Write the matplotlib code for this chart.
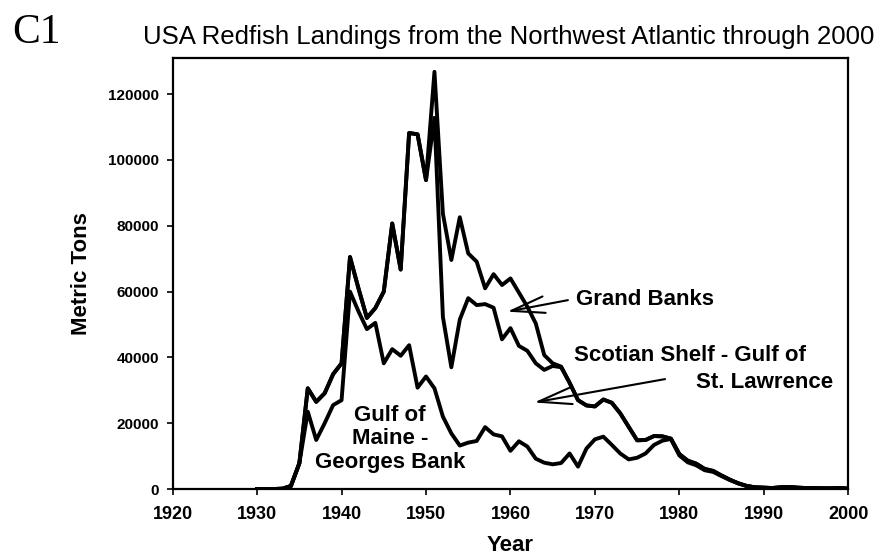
import matplotlib
matplotlib.use('Agg')
import matplotlib.pyplot as plt
import numpy as np

plt.rcParams['font.family'] = ['Liberation Sans', 'DejaVu Sans']

# landings by area (metric tons)
years = np.arange(1930, 2001)

gulf_maine = [0, 0, 0, 100, 900, 7800, 23500, 14900, 20000, 25500,
              27000, 60000, 54000, 48600, 50500, 38200, 42500, 40500, 43700, 30800,
              34200, 30600, 22000, 16900, 13200, 14100, 14600, 18800, 16600, 16000,
              11600, 14500, 12900, 9200, 8000, 7500, 7900, 10800, 6800, 12300,
              15100, 15900, 13400, 10800, 9000, 9500, 10800, 13400, 14700, 15200,
              10200, 8100, 7200, 5700, 5200, 3900, 2700, 1700, 900, 500,
              400, 300, 500, 600, 400, 300, 300, 200, 200, 300,
              100]

scotian_shelf = [0, 0, 0, 0, 0, 0, 7100, 11600, 9100, 9400,
                 11200, 10500, 7000, 3400, 4500, 21800, 38200, 26200, 64500, 77000,
                 59700, 82200, 30300, 20100, 38300, 43900, 41300, 37400, 38500, 29500,
                 37300, 29000, 29100, 29000, 28200, 29900, 29100, 21500, 20200, 13100,
                 10000, 11300, 12800, 12200, 9900, 5300, 4100, 2700, 1300, 100,
                 400, 500, 500, 400, 300, 200, 100, 0, 0, 0,
                 0, 0, 0, 0, 0, 0, 0, 0, 0, 0,
                 0]

grand_banks = [0] * 21 + [14000, 31400, 32600, 31100, 13600, 13200, 4800, 10200, 16500,
                          15100, 16200, 13400, 12100, 4500, 800, 200] + [0] * 34

# stacked lines, like the original spreadsheet chart
line1 = np.array(gulf_maine)
line2 = line1 + np.array(scotian_shelf)
line3 = line2 + np.array(grand_banks)

fig = plt.figure(figsize=(8.9, 5.56), dpi=100)
ax = fig.add_axes([0.194, 0.1205, 0.7591, 0.7752])

for y in (line3, line2, line1):
    ax.plot(years, y, color='black', lw=2.8, solid_joinstyle='round')

ax.set_xlim(1920, 2000)
ax.set_ylim(0, 131000)
ax.set_xticks(np.arange(1920, 2001, 10))
ax.set_yticks(np.arange(0, 120001, 20000))

for s in ax.spines.values():
    s.set_linewidth(1.6)
ax.tick_params(axis='both', direction='out', length=4, width=1.2)
ax.tick_params(axis='x', labelsize=13, pad=8)
ax.tick_params(axis='y', labelsize=11, pad=6)
for lab in ax.get_xticklabels() + ax.get_yticklabels():
    lab.set_fontweight('bold')

ax.set_xlabel('Year', fontsize=16, fontweight='bold', labelpad=9)
ax.set_ylabel('Metric Tons', fontsize=16, fontweight='bold', labelpad=11)

fig.text(0.161, 0.933, 'USA Redfish Landings from the Northwest Atlantic through 2000',
         fontsize=18.5, ha='left', va='center')
fig.text(0.014, 0.923, 'C1', fontsize=30, family='Liberation Serif',
         ha='left', va='baseline')

arrow = dict(arrowstyle='->,head_length=1.2,head_width=0.3', color='black',
             lw=1.5, shrinkA=0, shrinkB=0, mutation_scale=20)

ax.annotate('', xy=(1959.6, 53900), xytext=(1966.8, 57400), arrowprops=arrow)
ax.text(1967.8, 57700, 'Grand Banks', fontsize=16, fontweight='bold',
        ha='left', va='center')

ax.annotate('', xy=(1962.8, 26300), xytext=(1978.3, 33400), arrowprops=arrow)
ax.text(1967.5, 40700, 'Scotian Shelf - Gulf of', fontsize=16, fontweight='bold',
        ha='left', va='center')
ax.text(1998.2, 32300, 'St. Lawrence', fontsize=16, fontweight='bold',
        ha='right', va='center')

ax.text(1945.7, 15300, 'Gulf of\nMaine -\nGeorges Bank', fontsize=16,
        fontweight='bold', ha='center', va='center', linespacing=1.15)

fig.savefig('out.png', dpi=100)
